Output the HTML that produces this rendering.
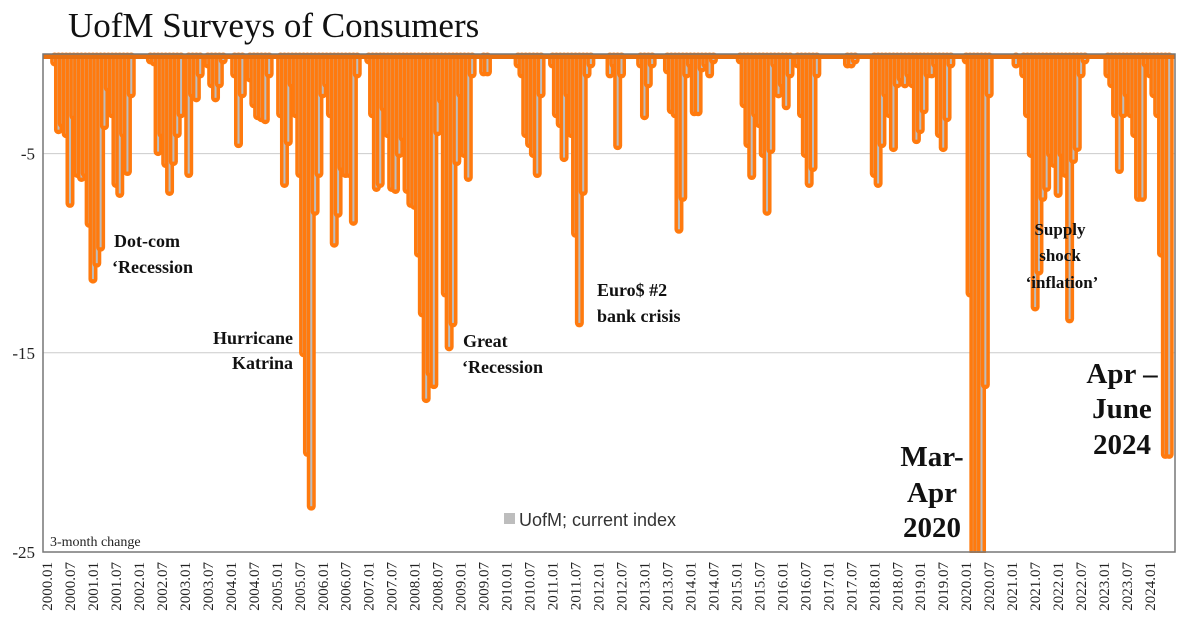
<!DOCTYPE html>
<html><head><meta charset="utf-8"><style>
html,body{margin:0;padding:0;background:#fff;}
svg{display:block;}
</style></head><body>
<svg id="chart" width="1201" height="630" viewBox="0 0 1201 630" xmlns="http://www.w3.org/2000/svg">
<text x="68" y="37" font-family="Liberation Serif, serif" font-size="35" fill="#111">UofM Surveys of Consumers</text>
<g id="grid"></g>
<g id="bars"></g>
<g id="axes"></g>
</svg>
<script>
const startYear = 2000;
const values = [
0,0,-0.4,-3.8,-3.5,-4,-7.5,-3.1,-6,-6.2,-6,-8.5,
-11.3,-10.5,-9.7,-3.6,-1.7,-3,-6.5,-7,-4,-5.9,-2,0,
0,0,0,-0.3,-0.4,-4.9,-4,-5.5,-6.9,-5.4,-4,-3,
0,-6,-2,-2.2,-1,0,-0.5,-1.5,-2.2,-1.5,-0.3,0,
0,-1,-4.5,-2,0,-1.2,-2.5,-3.1,-3.2,-3.3,-1,0,
0,-3,-6.5,-4.4,-1.5,-3,-6,-15,-20,-22.7,-7.9,-6,
-2,-1.5,-3,-9.5,-8,-5.7,-6,-6,-8.4,-1,0,0,
-0.3,-3,-6.7,-6.5,-2.7,-4,-6.7,-6.8,-5,-4.2,-6.8,-7.5,
-7.6,-10,-13,-17.3,-16,-16.6,-3.9,-2.3,-12,-14.7,-13.5,-5.4,
-2,-5,-6.2,-1,0,0,-0.9,-0.9,0,0,0,0,
0,0,0,-0.5,-1,-4,-4.5,-5,-6,-2,0,0,
-0.5,-3,-3.5,-5.2,-2,-4,-9,-13.5,-6.9,-1,-0.5,0,
0,0,0,-1,-0.5,-4.6,-1,0,0,0,0,-0.5,
-3.1,-1.5,-0.5,0,0,0,-0.8,-2.8,-3,-8.8,-7.2,-1,
-0.5,-2.9,-2.9,-0.7,-0.5,-1,-0.3,0,0,0,0,0,
0,-0.3,-2.5,-4.5,-6.1,-3,-3.5,-5,-7.9,-4.8,-0.5,-2,
-1.5,-2.6,-1,0,-0.5,-3,-5,-6.5,-5.7,-1,0,0,
0,0,0,0,0,-0.5,-0.5,-0.3,0,0,0,0,
-6,-6.5,-4.5,-2,-3,-4.7,-1.5,-1.2,-1.5,-1,-1.5,-4.3,
-3.8,-2.8,-1,-1,-0.5,-4,-4.7,-3.2,-0.5,0,0,0,
-0.3,-12,-25,-25,-25,-16.6,-2,0,0,0,0,0,
0,-0.5,0,-1,-3,-5,-12.7,-10.9,-7.2,-6.7,-5,-5.5,
-7,-5,-6,-13.3,-5.3,-4.7,-1,-0.3,0,0,0,0,
0,-1,-1.5,-3,-5.8,-3,-2,-3,-4,-7.2,-7.2,-0.5,
-1,-2,-3,-10,-20.1,-20.1
];
const yTicks = [-5,-15,-25];
const yMin = -25, yMax = 0;

const NS = 'http://www.w3.org/2000/svg';
const L = 43, R = 1175, T = 54, B = 552;
const x0 = 47, step = 3.83;
function xScale(i){ return x0 + i*step; }
function yScale(v){ return T + (yMax - v)/(yMax - yMin)*(B - T); }
function mk(tag, attrs, parent){ const e=document.createElementNS(NS,tag); for(const k in attrs) e.setAttribute(k,attrs[k]); parent.appendChild(e); return e; }

const grid = document.getElementById('grid');
const bars = document.getElementById('bars');
const axes = document.getElementById('axes');

yTicks.forEach(t=>{
  const y = yScale(t);
  if (t !== yMin) {
    const gl = mk('line',{x1:L,x2:R,y1:y,y2:y,stroke:'#ccc','stroke-width':1},grid);
    
    
  }
});

// each bar: orange halo then gray core, in order
values.forEach((v,i)=>{
  if (v >= 0) return;
  const x = xScale(i);
  const yb = Math.min(yScale(v), B+6);
  const h = mk('line',{x1:x,x2:x,y1:T+3,y2:yb,stroke:'#ff7a0e','stroke-width':9,'stroke-linecap':'round'},bars);
  
  
  const b = mk('rect',{x:x-1,y:T+2,width:2,height:Math.max(0,yb-T-2),fill:'#bdbdbd'},bars);
  
  
});
const strip = mk('rect',{x:L,y:T,width:R-L,height:5,fill:'#e8700f'},bars);



const cover = mk('rect',{x:0,y:B+1,width:1201,height:630-B-1,fill:'#fff'},axes);



const frame = mk('rect',{x:L,y:T,width:R-L,height:B-T,fill:'none',stroke:'#777','stroke-width':1.5},axes);



yTicks.forEach(t=>{
  const y = yScale(t);
  const tl = mk('text',{x:L-8,y:y+6,'text-anchor':'end','font-family':'Liberation Serif, serif','font-size':17,fill:'#222'},axes);
  tl.textContent = String(t);
  
  
});

for (let i=0;i<values.length;i+=6){
  const yr = startYear + Math.floor(i/12);
  const mo = (i%12)+1;
  const lbl = yr + '.' + (mo<10?'0'+mo:mo);
  const x = xScale(i);
  const t = mk('text',{x:0,y:0,transform:`translate(${x+5},${B+10}) rotate(-90)`,'text-anchor':'end','font-family':'Liberation Serif, serif','font-size':15,fill:'#222'},axes);
  t.textContent = lbl;
  
  
}
</script>
<svg style="position:absolute;left:0;top:0" width="1201" height="630">
<g font-family="Liberation Serif, serif" font-weight="bold" fill="#111">
<text x="114" y="247" font-size="18">Dot-com</text>
<text x="112" y="273" font-size="18">‘Recession</text>
<text x="293" y="344" font-size="18" text-anchor="end">Hurricane</text>
<text x="293" y="369" font-size="18" text-anchor="end">Katrina</text>
<text x="463" y="347" font-size="18">Great</text>
<text x="462" y="373" font-size="18">‘Recession</text>
<text x="597" y="296" font-size="18">Euro$ #2</text>
<text x="597" y="322" font-size="18">bank crisis</text>
<text x="1060" y="235" font-size="17" text-anchor="middle">Supply</text>
<text x="1060" y="261" font-size="17" text-anchor="middle">shock</text>
<text x="1062" y="288" font-size="17" text-anchor="middle">‘inflation’</text>
<text x="932" y="466" font-size="29" text-anchor="middle">Mar-</text>
<text x="932" y="502" font-size="29" text-anchor="middle">Apr</text>
<text x="932" y="537" font-size="29" text-anchor="middle">2020</text>
<text x="1122" y="383" font-size="29" text-anchor="middle">Apr –</text>
<text x="1122" y="418" font-size="29" text-anchor="middle">June</text>
<text x="1122" y="454" font-size="29" text-anchor="middle">2024</text>
</g>
<text x="50" y="546" font-family="Liberation Serif, serif" font-size="14" fill="#222">3-month change</text>
<rect x="504" y="513" width="11" height="11" fill="#bdbdbd"/>
<text x="519" y="526" font-family="Liberation Sans, sans-serif" font-size="18" fill="#333">UofM; current index</text>
</svg>
</body></html>
